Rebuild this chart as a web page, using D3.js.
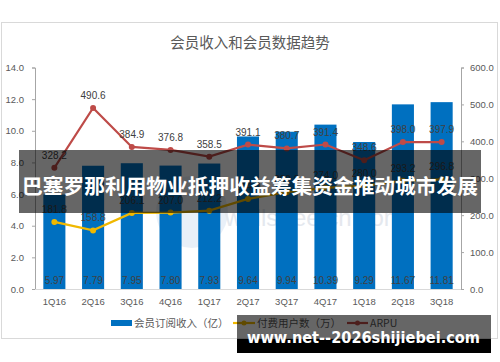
<!DOCTYPE html>
<html><head><meta charset="utf-8">
<script src="https://cdn.jsdelivr.net/npm/d3@7/dist/d3.min.js"></script>
<style>
html,body{margin:0;padding:0;background:#fff;}
svg{display:block;font-family:"Noto Sans CJK SC","Noto Sans",sans-serif;}
</style></head>
<body><svg id="c" width="500" height="362"></svg>
<script>
const categories = ["1Q16","2Q16","3Q16","4Q16","1Q17","2Q17","3Q17","4Q17","1Q18","2Q18","3Q18"];
const revenue = [5.97,7.79,7.95,7.80,7.93,9.64,9.94,10.39,9.29,11.67,11.81];
const paidUsers = [181.8,158.8,206.1,207.0,212.2,244.0,262.0,274.0,280.0,293.2,296.8];
const arpu = [328.2,490.6,384.9,376.8,358.5,391.1,380.7,391.4,348.6,398.0,397.9];
const leftTicks = [0,2,4,6,8,10,12,14];
const rightTicks = [0,100,200,300,400,500,600];
const title = "会员收入和会员数据趋势";
const legendLabels = ["会员订阅收入（亿）","付费用户数（万）","ARPU"];
const bannerText = "巴塞罗那利用物业抵押收益筹集资金推动城市发展";
const siteText = "www.net--2026shijiebei.com";

const svg = d3.select("#c");
const L = 35, R = 461, T = 67.5, B = 289;
const x = d3.scaleBand().domain(categories).range([L, R]).paddingInner(0.43).paddingOuter(0.215);
const yL = d3.scaleLinear().domain([0,14]).range([B, T]);
const yR = d3.scaleLinear().domain([0,600]).range([B, T]);
const cx = d => x(d) + x.bandwidth()/2;

// frame
svg.append("rect").attr("x",1.5).attr("y",22.5).attr("width",496).attr("height",316)
  .attr("fill","#fff").attr("stroke","#d9d9d9");

svg.append("text").attr("x",250).attr("y",48).attr("text-anchor","middle")
  .attr("font-size",14.5).attr("fill","#595959").text(title);

// watermark
svg.append("circle").attr("cx",192).attr("cy",212).attr("r",36).attr("fill","#dfe9f5").attr("opacity",0.7);
svg.append("text").attr("x",225).attr("y",226).attr("font-size",24).attr("fill","#e4e8ee")
  .attr("font-family","Liberation Sans, sans-serif").text("wallstreetcn.com");

// axes
const axL = svg.append("g").attr("transform",`translate(${L},0)`)
  .call(d3.axisLeft(yL).tickValues(leftTicks).tickFormat(d3.format(".1f")).tickSize(3).tickSizeOuter(3));
const axR = svg.append("g").attr("transform",`translate(${R},0)`)
  .call(d3.axisRight(yR).tickValues(rightTicks).tickFormat(d3.format(".1f")).tickSize(3).tickSizeOuter(3));
[axL, axR].forEach(a => {
  a.select(".domain").attr("stroke","#a6a6a6");
  a.selectAll(".tick line").attr("stroke","#a6a6a6");
  a.selectAll("text").attr("fill","#595959").attr("font-size",9.5)
    .attr("font-family","Liberation Sans, sans-serif");
});
axL.selectAll("text").attr("x",-11);
axR.selectAll("text").attr("x",9);

// bars
svg.append("g").selectAll("rect").data(categories).join("rect")
  .attr("x", d => x(d)).attr("width", x.bandwidth())
  .attr("y", (d,i) => yL(revenue[i])).attr("height", (d,i) => B - yL(revenue[i]))
  .attr("fill","#0070c0");
svg.append("g").selectAll("text").data(categories).join("text")
  .attr("x", d => cx(d)).attr("y", 284).attr("text-anchor","middle")
  .attr("font-size",10).attr("fill","#404040").attr("font-family","Liberation Sans, sans-serif")
  .text((d,i) => revenue[i].toFixed(2));

// x axis baseline
svg.append("line").attr("x1",L).attr("x2",R).attr("y1",B+0.5).attr("y2",B+0.5).attr("stroke","#d9d9d9");
svg.append("g").selectAll("text").data(categories).join("text")
  .attr("x", d => cx(d)).attr("y", 305).attr("text-anchor","middle")
  .attr("font-size",9.5).attr("fill","#595959").attr("font-family","Liberation Sans, sans-serif")
  .text(d => d);

// lines
function series(vals, color) {
  const line = d3.line().x((d,i) => cx(categories[i])).y(d => yR(d));
  svg.append("path").datum(vals).attr("d", line).attr("fill","none")
    .attr("stroke", color).attr("stroke-width",2.2);
  svg.append("g").selectAll("circle").data(vals).join("circle")
    .attr("cx", (d,i) => cx(categories[i])).attr("cy", d => yR(d)).attr("r",3).attr("fill",color);
  svg.append("g").selectAll("text").data(vals).join("text")
    .attr("x", (d,i) => cx(categories[i])).attr("y", d => yR(d) - 9).attr("text-anchor","middle")
    .attr("font-size",10).attr("fill","#404040").attr("font-family","Liberation Sans, sans-serif")
    .text(d => d.toFixed(1));
}
series(paidUsers, "#f0b800");
series(arpu, "#be4b48");

// legend
const lg = svg.append("g");
lg.append("rect").attr("x",111).attr("y",320).attr("width",21).attr("height",6).attr("fill","#0070c0");
lg.append("text").attr("x",134).attr("y",327).attr("font-size",10.5).attr("fill","#595959").text(legendLabels[0]);
lg.append("line").attr("x1",233).attr("x2",255).attr("y1",323).attr("y2",323).attr("stroke","#f0b800").attr("stroke-width",2.2);
lg.append("circle").attr("cx",244).attr("cy",323).attr("r",2.5).attr("fill","#f0b800");
lg.append("text").attr("x",257).attr("y",327).attr("font-size",10.5).attr("fill","#595959").text(legendLabels[1]);
lg.append("line").attr("x1",347).attr("x2",368).attr("y1",323).attr("y2",323).attr("stroke","#be4b48").attr("stroke-width",2.2);
lg.append("circle").attr("cx",357.5).attr("cy",323).attr("r",2.5).attr("fill","#be4b48");
lg.append("text").attr("x",370).attr("y",327).attr("font-size",10.5).attr("fill","#595959").text(legendLabels[2]);

// overlays
svg.append("rect").attr("x",19).attr("y",150).attr("width",462).attr("height",63).attr("fill","#000").attr("opacity",0.6);
svg.append("text").attr("x",250).attr("y",193.5).attr("text-anchor","middle")
  .attr("font-size",20.3).attr("font-weight","bold").attr("fill","#fff")
  .attr("textLength",456).attr("lengthAdjust","spacingAndGlyphs").text(bannerText);

svg.append("rect").attr("x",237).attr("y",315).attr("width",254).attr("height",24).attr("fill","#000").attr("opacity",0.6);
svg.append("rect").attr("x",237).attr("y",339).attr("width",254).attr("height",14).attr("fill","#000");
svg.append("text").attr("x",363.5).attr("y",343).attr("text-anchor","middle")
  .attr("font-size",16.5).attr("font-weight","bold").attr("fill","#fff")
  .attr("font-family","DejaVu Sans, sans-serif")
  .attr("textLength",233).attr("lengthAdjust","spacingAndGlyphs").text(siteText);
</script></body></html>
